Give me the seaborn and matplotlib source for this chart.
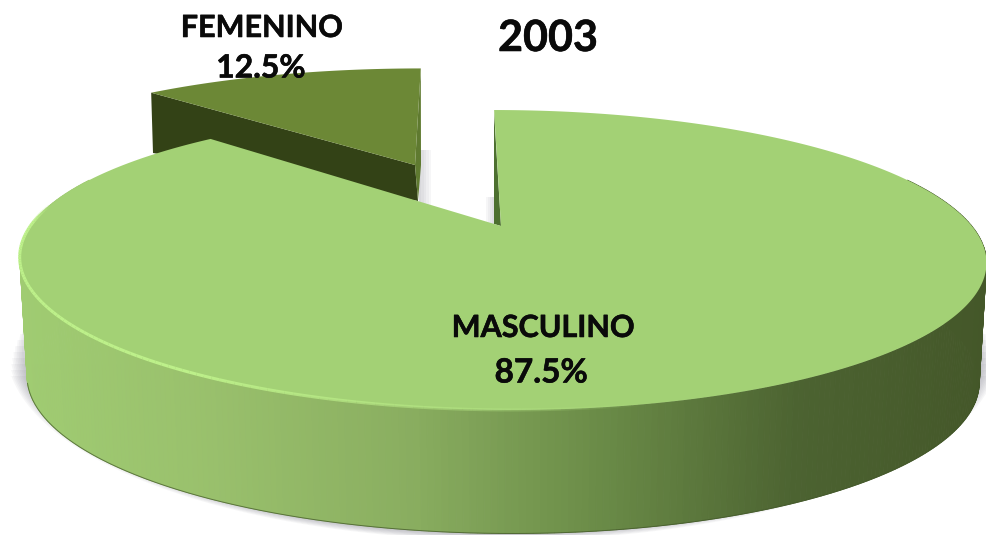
"""3D pie chart, 2003: MASCULINO vs FEMENINO"""
import numpy as np
import matplotlib
matplotlib.use('Agg')
import matplotlib.pyplot as plt
import matplotlib.patheffects as pe
import seaborn as sns

sns.set_theme(style="white")
plt.rcParams['font.family'] = ['Lato', 'DejaVu Sans']

year_label = '2003'
categories = ['FEMENINO', 'MASCULINO']
values = [12.5, 87.5]

K = 0.2333


def ring(theta, cx, cy, sx=1.0, sy=1.0, shear=0.0):
    # circle seen in perspective, so the pie centre is not the ellipse centre
    t = np.radians(theta)
    d = 1 + K * np.sin(t)
    X = 470 * sx * np.cos(t) / d
    Y = 141.8 * sy * np.sin(t) / d
    return cx + X + shear * Y, cy - Y


fig, ax = plt.subplots(figsize=(9.87, 5.35), dpi=100)
fig.subplots_adjust(0, 0, 1, 1)
ax.set_xlim(0, 987)
ax.set_ylim(535, 0)
ax.axis('off')

# slice angles come from the values
fem_end = 90 + 360 * values[0] / 100
mas_end = fem_end + 360 * values[1] / 100

# ============================================================
# Soft shadow under the pie (flat on top, hidden behind the pie)
# ============================================================
t = np.radians(np.linspace(0, 360, 361))
for i in range(10):
    sy_ = 350 + (183 + i * 0.8) * np.sin(t)
    ax.fill(503 + (481 + i * 1.7) * np.cos(t), np.maximum(sy_, 322 + i * 6),
            color='#606070', alpha=0.05, lw=0, zorder=1)
for i in range(5):
    ax.fill([419, 421 + i * 2.5, 421 + i * 2.5, 419], [150, 150, 205, 205],
            color='#606070', alpha=0.05, lw=0, zorder=1)
    ax.fill([494 - i * 2, 494, 494, 494 - i * 2], [197, 197, 224, 224],
            color='#606070', alpha=0.05, lw=0, zorder=1)

# ============================================================
# FEMENINO slice
# ============================================================
fem_kw = dict(cx=415, cy=165, sx=0.94, sy=0.84, shear=0.06)
th = np.linspace(90, fem_end, 40)
fx, fy = ring(th, **fem_kw)
# cut wall
ax.fill([fx[-1], 415, 418, 153], [fy[-1], 165, 201, 153], color='#334216', lw=0, zorder=2)
ax.fill([415, fx[0], 421, 418], [165, fy[0], 165, 201], color='#5f7a30', lw=0, zorder=2)
ax.fill(np.r_[415, fx], np.r_[165, fy], color='#6C8836', lw=0, zorder=3)

# ============================================================
# MASCULINO slice: outer wall, shaded by x position
# ============================================================
main_kw = dict(cx=501, cy=225, shear=-0.06)
base_kw = dict(cx=501, cy=343, sx=0.985, sy=1.03, shear=-0.06)

wall_pal = sns.blend_palette(['#A0CC72', '#99C06C', '#8AAE60', '#6A8B47', '#4C6331', '#445729'],
                             n_colors=256)
th = np.linspace(160, 380, 331)
tx, ty = ring(th, **main_kw)
bx, by = ring(th, **base_kw)
for i in range(len(th) - 1):
    mid = (tx[i] + tx[i + 1] + bx[i] + bx[i + 1]) / 4
    col = wall_pal[int(np.clip((mid - 19) / 968 * 255, 0, 255))]
    ax.fill([tx[i], tx[i + 1], bx[i + 1], bx[i]], [ty[i], ty[i + 1], by[i + 1], by[i]],
            color=col, lw=0.6, ec=col, zorder=4)
th_base = np.linspace(195, 345, 200)
ax.plot(*ring(th_base, **base_kw), color='#3f5426', lw=0.7, alpha=0.7, zorder=4)

# thin wall seen at the start of the cut
ax.fill([494, 494, 501], [111, 224, 226], color='#4d7030', lw=0, zorder=4)

# top face
th = np.linspace(fem_end, mas_end, 500)
mx, my = ring(th, **main_kw)
ax.fill(np.r_[501, mx], np.r_[226, my], color='#A3D175', lw=0, zorder=5)

# light rim along the front edge, fading out to the right
th = np.linspace(172, 282, 120)
rx, ry = ring(th, **main_kw)
for i in range(len(th) - 1):
    fade = min(1.0, (i + 1) / 8, (len(th) - i) / 50)
    ax.plot(rx[i:i + 2], ry[i:i + 2], color='#BDF08A', lw=2.2, alpha=fade,
            solid_capstyle='butt', zorder=6)

# ============================================================
# Text
# ============================================================
heavy = [pe.withStroke(linewidth=0.4, foreground='#0a0a0a')]
txt = dict(fontweight='bold', color='#0a0a0a', ha='center', va='center', zorder=8,
           path_effects=heavy)
ax.text(548, 38, year_label, fontsize=31, **txt)
ax.text(262, 28, categories[0], fontsize=22, **txt)
ax.text(261, 68, f'{values[0]}%', fontsize=23, **txt)
ax.text(543, 328, categories[1], fontsize=22, **txt)
ax.text(541, 373, f'{values[1]}%', fontsize=24, **txt)

plt.savefig('out.png', dpi=100, facecolor='white')
plt.close()
